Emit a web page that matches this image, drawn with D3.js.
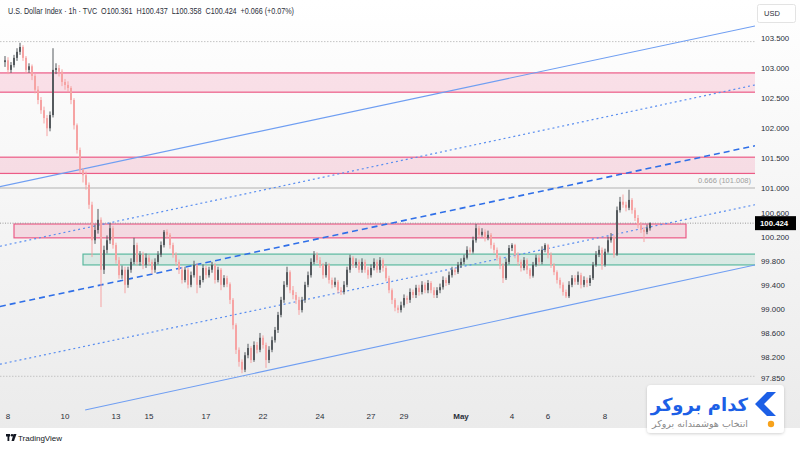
<!DOCTYPE html>
<html><head><meta charset="utf-8">
<script src="https://cdn.jsdelivr.net/npm/d3@7/dist/d3.min.js"></script>
<style>
html,body{margin:0;padding:0;background:#fff;}
svg{display:block;font-family:"Liberation Sans","Noto Sans",Arial,sans-serif;}
</style></head>
<body><svg id="c" width="800" height="450"></svg>
<script>
// ---------------- DATA ----------------
const firstOpen = 103.10;
const closes = [
103.13,102.97,103.05,103.17,103.27,103.35,103.17,102.97,103.03,102.87,
102.64,102.47,102.30,102.17,102.00,102.22,102.97,103.00,102.94,102.77,
102.72,102.67,102.47,102.05,101.64,101.31,101.22,101.06,100.73,100.14,
100.31,100.48,99.65,99.98,100.14,100.34,100.06,99.81,99.56,99.65,
99.40,99.65,99.78,100.06,99.78,99.90,99.73,99.85,99.78,99.65,
99.78,99.90,100.06,100.28,100.23,100.06,99.90,99.78,99.65,99.48,
99.65,99.40,99.56,99.73,99.40,99.48,99.68,99.56,99.65,99.73,
99.48,99.65,99.40,99.51,99.41,99.15,98.73,98.32,98.12,97.99,
98.23,98.35,98.15,98.40,98.32,98.52,98.40,98.15,98.32,98.48,
98.65,98.90,99.15,99.40,99.61,99.31,99.23,99.15,98.98,99.15,
99.40,99.56,99.78,99.90,99.81,99.73,99.56,99.73,99.48,99.40,
99.45,99.31,99.28,99.40,99.65,99.85,99.73,99.78,99.65,99.78,
99.65,99.56,99.68,99.78,99.65,99.81,99.68,99.51,99.31,99.15,
99.02,98.98,99.06,99.18,99.15,99.28,99.23,99.35,99.28,99.40,
99.31,99.43,99.31,99.23,99.31,99.36,99.48,99.43,99.56,99.65,
99.61,99.73,99.78,99.85,99.98,99.95,100.14,100.34,100.23,100.28,
100.18,100.23,100.06,99.98,99.85,99.73,99.51,99.78,100.01,100.06,
99.90,99.78,99.68,99.81,99.65,99.55,99.73,99.85,99.78,99.98,
100.06,99.90,99.73,99.61,99.48,99.40,99.28,99.21,99.40,99.51,
99.45,99.56,99.40,99.48,99.43,99.51,99.73,99.90,99.98,99.73,
99.95,100.14,100.19,99.90,100.64,100.78,100.73,100.68,100.81,100.64,
100.51,100.39,100.31,100.28,100.34,100.424];
const highs = [
103.20,103.18,103.10,103.22,103.33,103.42,103.38,103.20,103.08,103.06,
102.90,102.70,102.52,102.36,102.22,102.28,103.33,103.08,103.05,102.98,
102.82,102.78,102.70,102.50,102.08,101.68,101.34,101.28,101.10,100.78,
100.40,100.66,100.52,100.05,100.22,100.43,100.38,100.10,99.86,99.72,
99.70,99.70,99.84,100.18,100.10,99.96,99.95,99.92,99.90,99.82,
99.84,99.96,100.12,100.31,100.32,100.26,100.10,99.94,99.82,99.70,
99.70,99.68,99.62,99.80,99.76,99.55,99.74,99.72,99.70,99.78,
99.76,99.70,99.68,99.56,99.55,99.44,99.18,98.76,98.36,98.16,
98.28,98.42,98.38,98.46,98.45,98.60,98.56,98.44,98.38,98.54,
98.70,98.95,99.20,99.46,99.70,99.64,99.38,99.28,99.20,99.20,
99.45,99.62,99.84,99.96,99.94,99.86,99.76,99.78,99.76,99.52,
99.52,99.48,99.36,99.46,99.70,99.90,99.88,99.84,99.82,99.84,
99.82,99.70,99.74,99.84,99.82,99.86,99.84,99.72,99.55,99.34,
99.18,99.06,99.12,99.24,99.22,99.34,99.32,99.40,99.40,99.46,
99.44,99.48,99.46,99.36,99.36,99.42,99.54,99.52,99.62,99.70,
99.68,99.78,99.84,99.90,100.04,100.02,100.20,100.41,100.38,100.34,
100.32,100.30,100.26,100.10,100.02,99.88,99.76,99.84,100.06,100.09,
100.08,99.94,99.82,99.86,99.84,99.68,99.78,99.90,99.90,100.04,
100.09,100.08,99.94,99.76,99.64,99.52,99.44,99.32,99.46,99.56,
99.56,99.62,99.60,99.54,99.52,99.56,99.78,99.96,100.05,100.02,
100.00,100.20,100.26,100.22,100.70,100.86,100.90,100.78,100.98,100.84,
100.68,100.56,100.44,100.36,100.40,100.437];
const lows = [
103.02,102.90,102.92,103.01,103.12,103.22,103.12,102.92,102.92,102.80,
102.58,102.40,102.24,102.08,101.87,101.95,102.18,102.90,102.86,102.70,
102.64,102.60,102.40,101.98,101.58,101.25,101.10,100.98,100.66,99.86,
100.08,100.25,99.03,99.58,99.92,100.08,100.00,99.75,99.50,99.50,
99.26,99.35,99.60,99.74,99.72,99.72,99.66,99.68,99.72,99.58,
99.60,99.74,99.86,100.02,100.18,100.00,99.85,99.72,99.58,99.42,
99.44,99.34,99.36,99.52,99.26,99.35,99.44,99.50,99.52,99.60,
99.42,99.44,99.31,99.36,99.36,99.08,98.66,98.25,98.04,97.93,
97.95,98.18,98.10,98.12,98.26,98.28,98.34,98.02,98.10,98.28,
98.44,98.60,98.86,99.10,99.36,99.26,99.16,99.08,98.90,98.94,
99.10,99.36,99.52,99.74,99.76,99.68,99.50,99.52,99.42,99.34,
99.36,99.26,99.23,99.24,99.36,99.60,99.68,99.68,99.60,99.60,
99.60,99.50,99.52,99.64,99.60,99.60,99.62,99.46,99.26,99.08,
98.96,98.93,98.94,99.02,99.08,99.10,99.18,99.18,99.22,99.24,
99.26,99.26,99.26,99.18,99.18,99.26,99.32,99.38,99.40,99.52,
99.56,99.58,99.68,99.74,99.82,99.90,99.92,100.10,100.18,100.20,
100.12,100.14,100.00,99.92,99.80,99.66,99.43,99.48,99.74,99.96,
99.84,99.72,99.62,99.64,99.58,99.50,99.52,99.70,99.72,99.74,
99.94,99.84,99.68,99.56,99.42,99.34,99.22,99.18,99.18,99.36,
99.40,99.40,99.34,99.36,99.36,99.38,99.48,99.70,99.86,99.65,
99.70,99.92,100.10,99.85,99.88,100.60,100.68,100.62,100.64,100.58,
100.46,100.34,100.26,100.11,100.24,100.30];

// x-axis date labels (bar index where each label sits)
const dateLabels = ["8","10","13","15","17","22","24","27","29","May","4","6","8"];
const dateIndex  = [1,20,37,48,67,86,105,122,133,152,169,181,200];

// right axis labels
const priceTicks = [103.5,103.0,102.5,102.0,101.5,101.0,100.6,100.2,99.8,99.4,99.0,98.6,98.2,97.85];
const lastPrice = 100.424;

// horizontal levels
const fibLevel = 101.008;
const topLevel = 103.44;
const bottomLevel = 97.88;

// zones: [startIndex, endIndex, priceTop, priceBottom]
const zoneNames = ["pinkTop","pinkMid","pinkLow","green"];
const zoneStart = [-5, -5, 3, 26];
const zoneEnd   = [260, 260, 227, 260];
const zoneTop   = [102.92, 101.52, 100.41, 99.91];
const zoneBot   = [102.60, 101.25, 100.18, 99.73];

// channel lines: [i1, p1, i2, p2]
const lineNames = ["upperSolid","upperDotted","midDashed","lowerDotted","lowerSolid"];
const lineI1 = [-1.7, -1.7, -1.7, -1.7, 26.7];
const lineP1 = [101.03, 100.04, 99.04, 98.08, 97.32];
const lineI2 = [250, 250, 250, 250, 250];
const lineP2 = [103.70, 102.72, 101.71, 100.73, 99.73];

const titleText = "U.S. Dollar Index \u00b7 1h \u00b7 TVC  O100.361  H100.437  L100.358  C100.424  +0.066 (+0.07%)";
const brandName = "کدام بروکر";
const brandSlogan = "انتخاب هوشمندانه بروکر";

// ---------------- DRAW ----------------
const svg = d3.select("#c");
const W = 800, H = 450;
const plotR = 755, plotB = 411;

const x = d3.scaleLinear().domain([0, closes.length - 1]).range([5, 650]);
const y = d3.scaleLinear().domain([97.85, 103.5]).range([378.1, 38]);

const defs = svg.append("defs");
const g1 = defs.append("linearGradient").attr("id","bg").attr("x1",0).attr("y1",0).attr("x2",0).attr("y2",1);
g1.append("stop").attr("offset","0%").attr("stop-color","#ffffff");
g1.append("stop").attr("offset","100%").attr("stop-color","#ebebeb");
defs.append("clipPath").attr("id","clip").append("rect").attr("x",0).attr("y",0).attr("width",plotR).attr("height",plotB);
const sh = defs.append("filter").attr("id","shadow").attr("x","-10%").attr("y","-20%").attr("width","120%").attr("height","150%");
sh.append("feDropShadow").attr("dx",0).attr("dy",1).attr("stdDeviation",1.5).attr("flood-color","#000").attr("flood-opacity",0.18);

svg.append("rect").attr("x",0).attr("y",0).attr("width",W).attr("height",428).attr("fill","url(#bg)");
svg.append("rect").attr("x",0).attr("y",428).attr("width",W).attr("height",22).attr("fill","#ffffff");

const plot = svg.append("g").attr("clip-path","url(#clip)");

// zones
const zoneStyle = {
  pinkTop:{fill:"rgba(242,82,130,0.16)", stroke:"#ec5b86"},
  pinkMid:{fill:"rgba(242,82,130,0.16)", stroke:"#ec5b86"},
  pinkLow:{fill:"rgba(242,82,130,0.16)", stroke:"#ec5b86"},
  green:{fill:"rgba(80,180,150,0.16)", stroke:"#5bb9a0"}
};
zoneNames.forEach((n,k)=>{
  plot.append("rect")
    .attr("x", x(zoneStart[k])).attr("y", y(zoneTop[k]))
    .attr("width", x(zoneEnd[k]) - x(zoneStart[k]))
    .attr("height", y(zoneBot[k]) - y(zoneTop[k]))
    .attr("fill", zoneStyle[n].fill).attr("stroke", zoneStyle[n].stroke).attr("stroke-width", 1.2);
});

// horizontal gray levels
plot.append("line").attr("x1",0).attr("x2",plotR).attr("y1",y(topLevel)).attr("y2",y(topLevel))
  .attr("stroke","#c4c4c4").attr("stroke-width",1).attr("stroke-dasharray","1.5,1.5");
plot.append("line").attr("x1",0).attr("x2",plotR).attr("y1",y(fibLevel)).attr("y2",y(fibLevel))
  .attr("stroke","#c8c8c8").attr("stroke-width",1.5);
plot.append("line").attr("x1",0).attr("x2",plotR).attr("y1",y(bottomLevel)).attr("y2",y(bottomLevel))
  .attr("stroke","#c4c4c4").attr("stroke-width",1).attr("stroke-dasharray","1.5,1.5");
plot.append("line").attr("x1",0).attr("x2",plotR).attr("y1",y(lastPrice)).attr("y2",y(lastPrice))
  .attr("stroke","#9a9a9a").attr("stroke-width",1).attr("stroke-dasharray","1,1.5");
plot.append("text").attr("x",751).attr("y",y(fibLevel)-5).attr("text-anchor","end")
  .attr("font-size",7.5).attr("fill","#a0a0a0").text("0.666 (" + fibLevel.toFixed(3) + ")");

// channel lines
const lineStyle = {
  upperSolid:{stroke:"#6f9ef2", w:1.1, dash:null},
  upperDotted:{stroke:"#5a8ef0", w:1.2, dash:"2,3"},
  midDashed:{stroke:"#2f6fe8", w:1.6, dash:"6,4"},
  lowerDotted:{stroke:"#5a8ef0", w:1.2, dash:"2,3"},
  lowerSolid:{stroke:"#6f9ef2", w:1.1, dash:null}
};
lineNames.forEach((n,k)=>{
  const s = lineStyle[n];
  const ln = plot.append("line")
    .attr("x1", x(lineI1[k])).attr("y1", y(lineP1[k]))
    .attr("x2", x(lineI2[k])).attr("y2", y(lineP2[k]))
    .attr("stroke", s.stroke).attr("stroke-width", s.w);
  if (s.dash) ln.attr("stroke-dasharray", s.dash);
});

// candles
const bars = closes.map((c,i)=>({i, o: i===0 ? firstOpen : closes[i-1], h: highs[i], l: lows[i], c}));
const upCol = "#555a5e", dnCol = "#f6a3a3";
const cg = plot.append("g");
cg.selectAll("line.w").data(bars).enter().append("line")
  .attr("x1", d=>x(d.i)).attr("x2", d=>x(d.i))
  .attr("y1", d=>y(d.h)).attr("y2", d=>y(d.l))
  .attr("stroke", d=> d.c>=d.o ? upCol : dnCol).attr("stroke-width",1);
cg.selectAll("rect.b").data(bars).enter().append("rect")
  .attr("x", d=>x(d.i)-1).attr("width", 2)
  .attr("y", d=>y(Math.max(d.o,d.c)))
  .attr("height", d=>Math.max(1, Math.abs(y(d.o)-y(d.c))))
  .attr("fill", d=> d.c>=d.o ? upCol : dnCol);

// title
svg.append("text").attr("x",8).attr("y",14).attr("font-size",8.3).attr("fill","#2a2e39")
  .attr("xml:space","preserve").style("white-space","pre")
  .attr("textLength",286).attr("lengthAdjust","spacingAndGlyphs").text(titleText);

// right axis
const ra = svg.append("g");
ra.selectAll("text.t").data(priceTicks).enter().append("text")
  .attr("x",761).attr("y",d=>y(d)+3).attr("font-size",7.8).attr("fill","#2a2e39")
  .text(d=>d.toFixed(3));
// last price label
ra.append("rect").attr("x",755).attr("y",y(lastPrice)-7).attr("width",41).attr("height",14).attr("fill","#000");
ra.append("text").attr("x",760).attr("y",y(lastPrice)+3).attr("font-size",7.8).attr("font-weight","bold").attr("fill","#fff").text(lastPrice.toFixed(3));
// USD box
ra.append("rect").attr("x",757.5).attr("y",4.5).attr("width",38).attr("height",18).attr("rx",2).attr("fill","#fff").attr("stroke","#e3e3e3");
ra.append("text").attr("x",764).attr("y",16).attr("font-size",7.5).attr("fill","#2a2e39").text("USD");

// bottom axis
svg.append("g").selectAll("text").data(dateLabels).enter().append("text")
  .attr("x",(d,k)=>x(dateIndex[k])).attr("y",419).attr("text-anchor","middle")
  .attr("font-size",8).attr("fill","#2a2e39").attr("font-weight",d=>d==="May"?"bold":"normal")
  .text(d=>d);

// TradingView mark
const tv = svg.append("g").attr("transform","translate(6,433)");
tv.append("rect").attr("x",0).attr("y",1).attr("width",4).attr("height",2.5).attr("fill","#131722");
tv.append("rect").attr("x",1.5).attr("y",1).attr("width",1.8).attr("height",7).attr("fill","#131722");
tv.append("circle").attr("cx",6).attr("cy",2.3).attr("r",1.3).attr("fill","#131722");
tv.append("path").attr("d","M7.5,1 L10.5,1 L8,8 L5.5,8 Z").attr("fill","#131722");
tv.append("text").attr("x",12).attr("y",8).attr("font-size",8).attr("fill","#131722").text("TradingView");

// broker logo
const lg = svg.append("g");
lg.append("rect").attr("x",647).attr("y",385).attr("width",137).attr("height",48).attr("rx",4)
  .attr("fill","#fff").attr("filter","url(#shadow)");
lg.append("path").attr("d","M767,392 L776,392 L764,404 L776,416 L767,416 L755,404 Z").attr("fill","#1c5fe6");
lg.append("circle").attr("cx",771).attr("cy",424).attr("r",3.2).attr("fill","#f7a21b");
lg.append("text").attr("x",748).attr("y",411).attr("text-anchor","end")
  .attr("font-family","'DejaVu Sans',sans-serif").attr("font-size",18).attr("font-weight","bold")
  .attr("fill","#1c5fe6").text(brandName);
lg.append("text").attr("x",748).attr("y",427).attr("text-anchor","end")
  .attr("font-family","'DejaVu Sans',sans-serif").attr("font-size",9.5)
  .attr("fill","#8a8a8a").text(brandSlogan);
</script>
</body></html>
